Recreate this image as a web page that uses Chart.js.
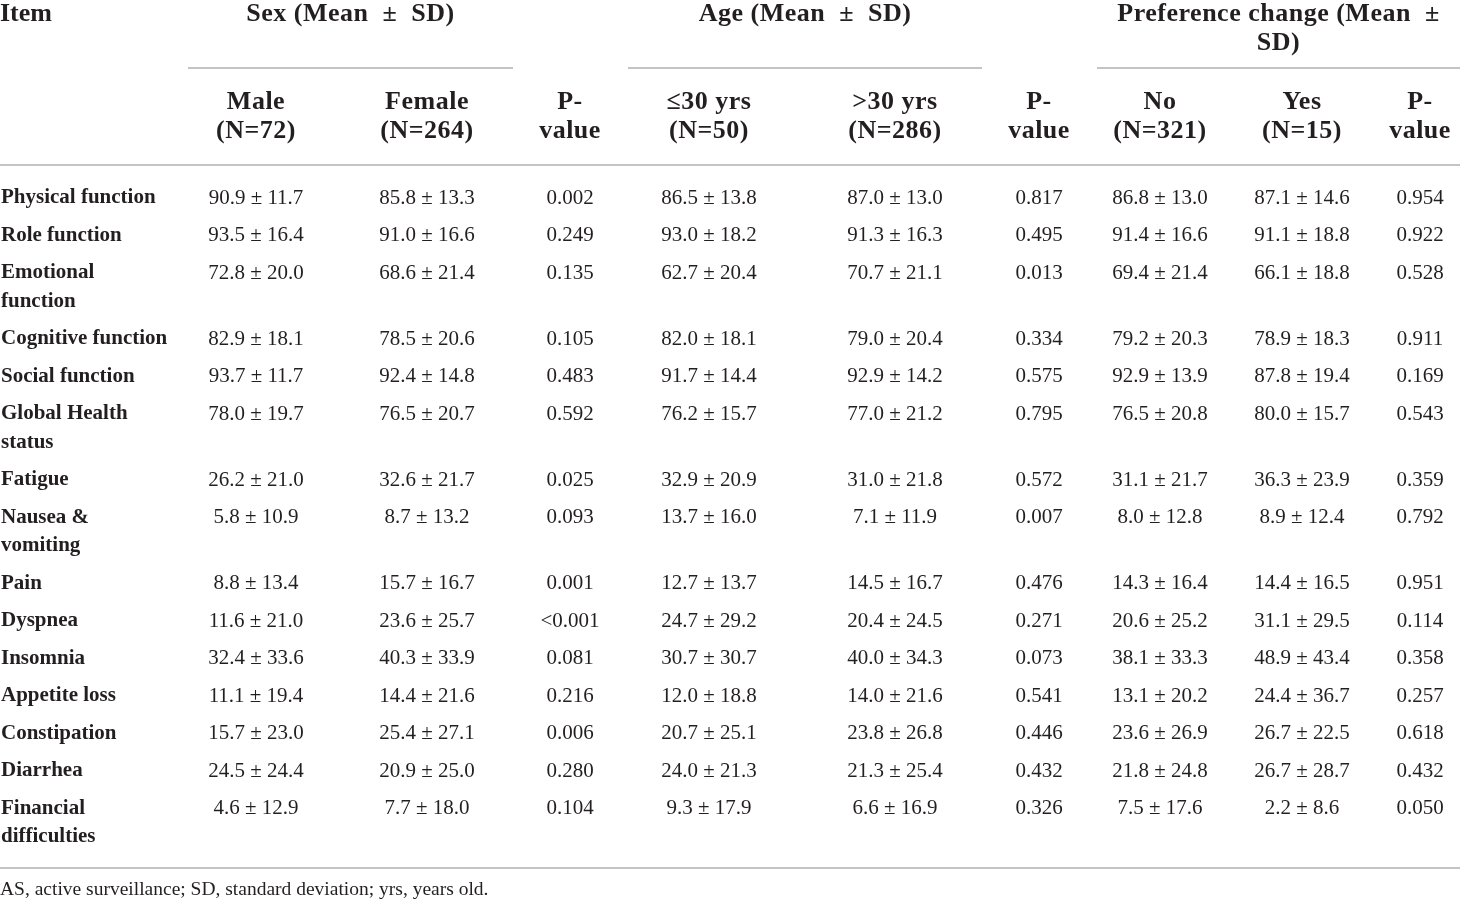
<!DOCTYPE html>
<html>
<head>
<meta charset="utf-8">
<script src="https://cdn.jsdelivr.net/npm/chart.js@4.4.1/dist/chart.umd.min.js"></script>
<style>
  html, body { margin: 0; padding: 0; background: #fff; }
  #wrap { width: 1460px; height: 902px; }
</style>
</head>
<body>
<div id="wrap"><canvas id="tbl"></canvas></div>
<script>
// ── DATA ──
const items = ['Physical function', 'Role function', 'Emotional\nfunction', 'Cognitive function',
    'Social function', 'Global Health\nstatus', 'Fatigue', 'Nausea &\nvomiting', 'Pain', 'Dyspnea',
    'Insomnia', 'Appetite loss', 'Constipation', 'Diarrhea', 'Financial\ndifficulties'];

const maleMean = [90.9, 93.5, 72.8, 82.9, 93.7, 78.0, 26.2, 5.8, 8.8, 11.6, 32.4, 11.1, 15.7, 24.5, 4.6];
const maleSD = [11.7, 16.4, 20.0, 18.1, 11.7, 19.7, 21.0, 10.9, 13.4, 21.0, 33.6, 19.4, 23.0, 24.4, 12.9];
const femaleMean = [85.8, 91.0, 68.6, 78.5, 92.4, 76.5, 32.6, 8.7, 15.7, 23.6, 40.3, 14.4, 25.4, 20.9, 7.7];
const femaleSD = [13.3, 16.6, 21.4, 20.6, 14.8, 20.7, 21.7, 13.2, 16.7, 25.7, 33.9, 21.6, 27.1, 25.0, 18.0];
const pSex = ['0.002', '0.249', '0.135', '0.105', '0.483', '0.592', '0.025', '0.093', '0.001', '<0.001',
    '0.081', '0.216', '0.006', '0.280', '0.104'];

const youngMean = [86.5, 93.0, 62.7, 82.0, 91.7, 76.2, 32.9, 13.7, 12.7, 24.7, 30.7, 12.0, 20.7, 24.0, 9.3];
const youngSD = [13.8, 18.2, 20.4, 18.1, 14.4, 15.7, 20.9, 16.0, 13.7, 29.2, 30.7, 18.8, 25.1, 21.3, 17.9];
const olderMean = [87.0, 91.3, 70.7, 79.0, 92.9, 77.0, 31.0, 7.1, 14.5, 20.4, 40.0, 14.0, 23.8, 21.3, 6.6];
const olderSD = [13.0, 16.3, 21.1, 20.4, 14.2, 21.2, 21.8, 11.9, 16.7, 24.5, 34.3, 21.6, 26.8, 25.4, 16.9];
const pAge = ['0.817', '0.495', '0.013', '0.334', '0.575', '0.795', '0.572', '0.007', '0.476', '0.271',
    '0.073', '0.541', '0.446', '0.432', '0.326'];

const noMean = [86.8, 91.4, 69.4, 79.2, 92.9, 76.5, 31.1, 8.0, 14.3, 20.6, 38.1, 13.1, 23.6, 21.8, 7.5];
const noSD = [13.0, 16.6, 21.4, 20.3, 13.9, 20.8, 21.7, 12.8, 16.4, 25.2, 33.3, 20.2, 26.9, 24.8, 17.6];
const yesMean = [87.1, 91.1, 66.1, 78.9, 87.8, 80.0, 36.3, 8.9, 14.4, 31.1, 48.9, 24.4, 26.7, 26.7, 2.2];
const yesSD = [14.6, 18.8, 18.8, 18.3, 19.4, 15.7, 23.9, 12.4, 16.5, 29.5, 43.4, 36.7, 22.5, 28.7, 8.6];
const pPref = ['0.954', '0.922', '0.528', '0.911', '0.169', '0.543', '0.359', '0.792', '0.951', '0.114',
    '0.358', '0.257', '0.618', '0.432', '0.050'];

const groupHeaders = ['Sex (Mean  ±  SD)', 'Age (Mean  ±  SD)', 'Preference change (Mean  ±\nSD)'];
const subHeaders = ['Male\n(N=72)', 'Female\n(N=264)', 'P-\nvalue', '≤30 yrs\n(N=50)', '>30 yrs\n(N=286)',
    'P-\nvalue', 'No\n(N=321)', 'Yes\n(N=15)', 'P-\nvalue'];
const footnote = 'AS, active surveillance; SD, standard deviation; yrs, years old.';

// ── LAYOUT (pixel units on the hidden linear scales) ──
const colX = [256, 427, 570, 709, 895, 1039, 1160, 1302, 1420];
const groupSpan = [[188, 513], [628, 982], [1097, 1460]];
const TEXT = '#231f20';
const RULE = '#c4c4c4';
const SERIF = '"Liberation Serif", "DejaVu Serif", serif';

const fmt = (m, s) => m.toFixed(1) + ' ± ' + s.toFixed(1);
const columns = [
    maleMean.map((m, i) => fmt(m, maleSD[i])),
    femaleMean.map((m, i) => fmt(m, femaleSD[i])),
    pSex,
    youngMean.map((m, i) => fmt(m, youngSD[i])),
    olderMean.map((m, i) => fmt(m, olderSD[i])),
    pAge,
    noMean.map((m, i) => fmt(m, noSD[i])),
    yesMean.map((m, i) => fmt(m, yesSD[i])),
    pPref
];

// row positions: first line of each row, taller rows when the item wraps
const rowY = [];
let yy = 198;
items.forEach(t => {
    rowY.push(yy);
    yy += t.includes('\n') ? 66 : 37.5;
});

const datasets = columns.map((col, c) => ({
    label: 'col' + c,
    data: col.map((v, i) => ({ x: colX[c], y: rowY[i], text: v })),
    pointRadius: 0,
    pointHoverRadius: 0
}));
datasets.unshift({
    label: 'items',
    data: items.map((v, i) => ({ x: 1, y: rowY[i], text: v })),
    pointRadius: 0,
    pointHoverRadius: 0
});

function lines(ctx, text, x, y, lh) {
    text.split('\n').forEach((s, k) => ctx.fillText(s, x, y + k * lh));
}

const tablePlugin = {
    id: 'tableText',
    afterDatasetsDraw(chart) {
        const ctx = chart.ctx;
        const xs = chart.scales.x, ys = chart.scales.y;
        ctx.save();
        ctx.fillStyle = TEXT;
        ctx.textBaseline = 'middle';

        // body cells
        chart.data.datasets.forEach((ds, d) => {
            const meta = chart.getDatasetMeta(d);
            ctx.font = d === 0 ? 'bold 21px ' + SERIF : '21px ' + SERIF;
            ctx.textAlign = d === 0 ? 'left' : 'center';
            meta.data.forEach((pt, i) => lines(ctx, ds.data[i].text, pt.x, pt.y, 28.5));
        });

        // header
        ctx.font = 'bold 26px ' + SERIF;
        ctx.textAlign = 'left';
        ctx.fillText('Item', xs.getPixelForValue(0), ys.getPixelForValue(14));
        ctx.letterSpacing = '0.5px';
        ctx.textAlign = 'center';
        groupHeaders.forEach((h, g) => {
            const cx = (groupSpan[g][0] + groupSpan[g][1]) / 2;
            lines(ctx, h, xs.getPixelForValue(cx), ys.getPixelForValue(14), 29);
        });
        subHeaders.forEach((h, c) => {
            lines(ctx, h, xs.getPixelForValue(colX[c]), ys.getPixelForValue(102), 29);
        });
        ctx.letterSpacing = '0px';

        // rules
        ctx.strokeStyle = RULE;
        ctx.lineWidth = 2;
        const rule = (x0, x1, y) => {
            ctx.beginPath();
            ctx.moveTo(xs.getPixelForValue(x0), ys.getPixelForValue(y));
            ctx.lineTo(xs.getPixelForValue(x1), ys.getPixelForValue(y));
            ctx.stroke();
        };
        groupSpan.forEach(s => rule(s[0], s[1], 68));
        rule(0, 1460, 165);
        rule(0, 1460, 868);

        // footnote
        ctx.font = '19.5px ' + SERIF;
        ctx.textAlign = 'left';
        ctx.fillText(footnote, xs.getPixelForValue(0), ys.getPixelForValue(890));
        ctx.restore();
    }
};

new Chart(document.getElementById('tbl'), {
    type: 'scatter',
    data: { datasets },
    options: {
        responsive: true,
        maintainAspectRatio: false,
        animation: false,
        events: [],
        layout: { padding: 0 },
        plugins: { legend: { display: false }, tooltip: { enabled: false } },
        scales: {
            x: { type: 'linear', min: 0, max: 1460, display: false },
            y: { type: 'linear', min: 0, max: 902, reverse: true, display: false }
        }
    },
    plugins: [tablePlugin]
});
</script>
</body>
</html>
